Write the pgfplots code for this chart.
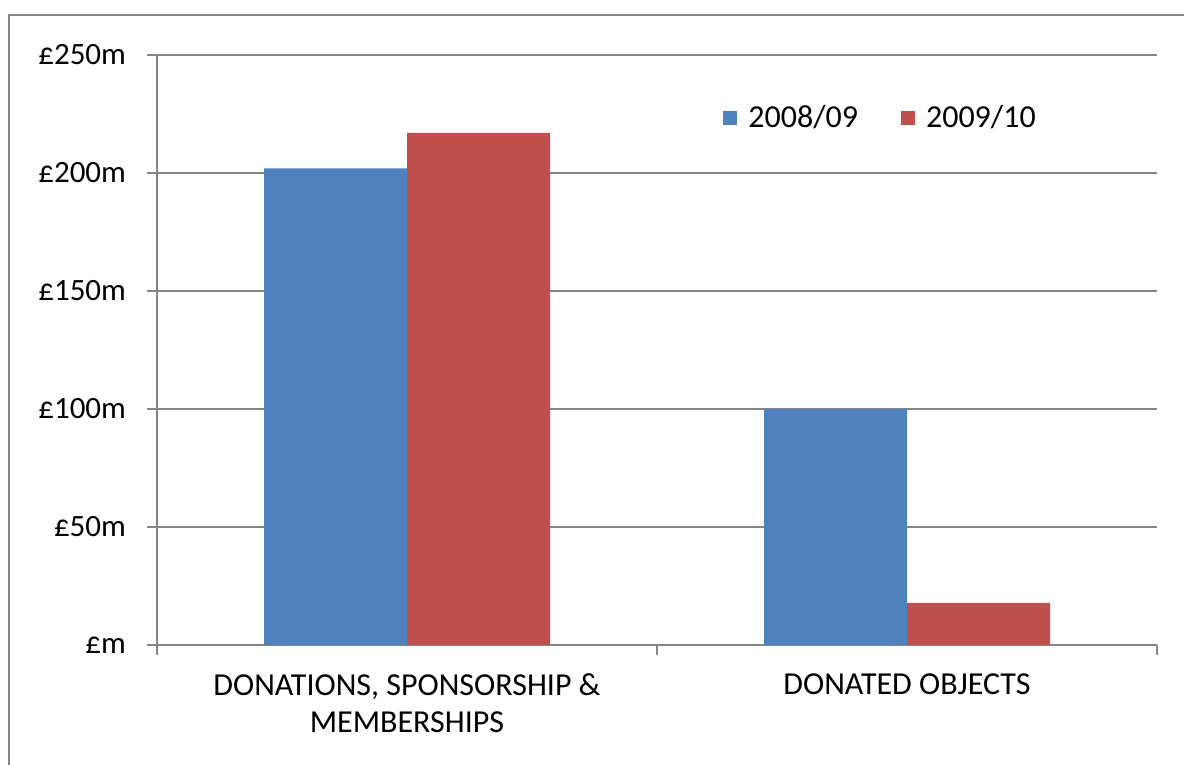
\documentclass[border=0pt]{standalone}
\usepackage{pgfplots}
\pgfplotsset{compat=1.18}
\usepackage{fontspec}
\setmainfont{Carlito}
\definecolor{bblue}{RGB}{79,129,189}
\definecolor{bred}{RGB}{192,80,77}
\definecolor{ggray}{RGB}{134,134,134}
\begin{document}
\begin{tikzpicture}[x=1pt,y=1pt]
\useasboundingbox (0,0) rectangle (592,382.5);
\draw[ggray, line width=1pt] (4.5,-20) -- (4.5,375) -- (620,375);
\begin{axis}[
  at={(78.5pt,60pt)}, anchor=south west,
  scale only axis, width=500pt, height=295pt,
  ybar=0pt, bar width=71.5pt,
  xmin=-0.5, xmax=1.5, ymin=0, ymax=250,
  xtick={-0.5,0.5,1.5}, xticklabels={},
  extra x ticks={0,1},
  extra x tick labels={{DONATIONS, SPONSORSHIP \&\\MEMBERSHIPS},{DONATED OBJECTS}},
  extra x tick style={major tick length=0pt, grid=none,
     tick label style={align=center, yshift=-11pt, font=\fontsize{16}{18.5}\selectfont}},
  ytick={0,50,100,150,200,250},
  yticklabels={£m,£50m,£100m,£150m,£200m,£250m},
  ymajorgrids, grid style={ggray, line width=0.75pt},
  axis x line=bottom, axis y line=left,
  axis line style={-, ggray, line width=0.9pt},
  tick align=outside, major tick length=5pt,
  tick style={ggray, line width=0.9pt},
  tick label style={font=\fontsize{15.5}{18.5}\selectfont, text=black},
  yticklabel style={xshift=-7pt},
  legend style={at={(0.560,0.893)}, anchor=west, draw=none, fill=none,
     legend columns=2, font=\fontsize{16}{18}\selectfont,
     /tikz/every even column/.append style={column sep=19.5pt}},
  legend image code/.code={\fill[#1] (0pt,-3.5pt) rectangle (7pt,3.5pt); \path (7pt,0pt) -- (10.5pt,0pt);},
]
\addplot[fill=bblue, draw=none] coordinates {(0,202) (1,100)};
\addplot[fill=bred, draw=none] coordinates {(0,217) (1,17.8)};
\legend{2008/09,2009/10}
\end{axis}
\end{tikzpicture}
\end{document}
